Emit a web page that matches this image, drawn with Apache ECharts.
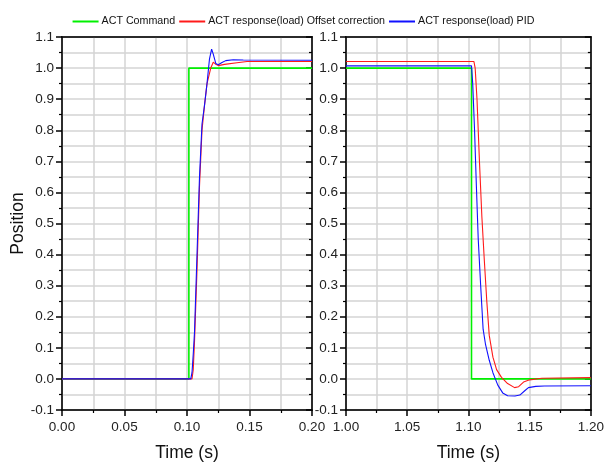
<!DOCTYPE html>
<html><head><meta charset="utf-8">
<script src="https://cdn.jsdelivr.net/npm/echarts@6/dist/echarts.min.js"></script>
<style>html,body{margin:0;padding:0;background:#fff}#c{width:607px;height:467px}</style>
</head><body><div id="c"></div>
<script>
// Left panel (step up), x in s
const cmdLeft = [[0,0],[0.1015,0],[0.1015,1],[0.2,1]];
const offLeft = [[0,0],[0.104,0],[0.105,0.03],[0.106,0.12],[0.108,0.35],[0.110,0.62],[0.112,0.80],[0.114,0.88],[0.116,0.95],[0.119,1.00],[0.121,1.019],[0.123,1.012],[0.125,1.008],[0.130,1.012],[0.140,1.017],[0.148,1.021],[0.2,1.021]];
const pidLeft = [[0,0],[0.103,0],[0.104,0.02],[0.105,0.08],[0.106,0.15],[0.108,0.40],[0.110,0.65],[0.112,0.82],[0.114,0.88],[0.116,0.95],[0.118,1.03],[0.1197,1.061],[0.121,1.045],[0.123,1.015],[0.125,1.011],[0.128,1.018],[0.131,1.024],[0.137,1.027],[0.145,1.026],[0.2,1.025]];
// Right panel (step down)
const cmdRight = [[1.0,1],[1.1025,1],[1.1025,0],[1.2,0]];
const offRight = [[1.0,1.021],[1.1045,1.021],[1.1055,1.00],[1.107,0.90],[1.109,0.70],[1.111,0.52],[1.113,0.38],[1.115,0.25],[1.117,0.14],[1.120,0.07],[1.123,0.03],[1.127,0.005],[1.132,-0.015],[1.1377,-0.028],[1.141,-0.025],[1.145,-0.010],[1.150,-0.003],[1.160,0.002],[1.2,0.004]];
const pidRight = [[1.0,1.007],[1.1025,1.007],[1.1035,0.95],[1.105,0.80],[1.1065,0.62],[1.108,0.45],[1.110,0.30],[1.112,0.16],[1.114,0.11],[1.117,0.06],[1.120,0.02],[1.124,-0.02],[1.128,-0.045],[1.132,-0.054],[1.138,-0.055],[1.142,-0.052],[1.146,-0.038],[1.149,-0.028],[1.155,-0.024],[1.162,-0.023],[1.2,-0.022]];
const seriesNames = ['ACT Command','ACT response(load) Offset correction','ACT response(load) PID'];
const colors = ['#00f000','#ff1a1a','#1010ff'];

const font = 'Liberation Sans, Arial, sans-serif';
const gridCol = '#d4d4d4';
function xAx(gi, min, max, decimals, main){
  return {
    type:'value', gridIndex:gi, min:min, max:max, interval:0.05, position: main?'bottom':'top',
    name: main?'Time (s)':'', nameLocation:'middle', nameGap:34,
    nameTextStyle:{fontFamily:font,fontSize:17.5,color:'#111'},
    axisLine:{show:true,onZero:false,lineStyle:{color:'#000',width:1.5}},
    axisTick:{show:main,length:6,lineStyle:{color:'#000',width:1.5}},
    minorTick:{show:main,splitNumber:2,length:3,lineStyle:{color:'#000',width:1.2}},
    axisLabel:{show:main,fontFamily:font,fontSize:13.5,color:'#222',margin:10,
      formatter:v=>v.toFixed(decimals)},
    splitLine:{show:main,lineStyle:{color:gridCol,width:1.5}},
    minorSplitLine:{show:main,lineStyle:{color:gridCol,width:1.5}}
  };
}
function yAx(gi, main, showName){
  return {
    type:'value', gridIndex:gi, min:-0.1, max:1.1, interval:0.1, position: main?'left':'right',
    name: showName?'Position':'', nameLocation:'middle', nameGap:35,
    nameTextStyle:{fontFamily:font,fontSize:17.5,color:'#111'},
    axisLine:{show:true,onZero:false,lineStyle:{color:'#000',width:1.5}},
    axisTick:{show:true,inside:!main,length:6,lineStyle:{color:'#000',width:1.5}},
    minorTick:{show:true,splitNumber:2,length:3,lineStyle:{color:'#000',width:1.2}},
    axisLabel:{show:main,fontFamily:font,fontSize:13.5,color:'#222',margin:8,
      formatter:v=>v.toFixed(1)},
    splitLine:{show:main,lineStyle:{color:gridCol,width:1.5}},
    minorSplitLine:{show:main,lineStyle:{color:gridCol,width:1.5}}
  };
}
function ser(name, data, xi, yi, color, w){
  return {name:name,type:'line',data:data,xAxisIndex:xi,yAxisIndex:yi,showSymbol:false,symbol:'none',
    lineStyle:{color:color,width:w},itemStyle:{color:color},animation:false,z:3};
}
const chart = echarts.init(document.getElementById('c'),null,{renderer:'canvas'});
chart.setOption({
  animation:false,
  backgroundColor:'#fff',
  legend:{top:11,left:'center',itemWidth:26,itemHeight:2,itemGap:4,
    data:seriesNames.map(n=>({name:n,icon:'rect'})),
    textStyle:{fontFamily:font,fontSize:10.7,color:'#111',padding:[0,0,0,-2]}},
  grid:[
    {left:62,right:295,top:37,bottom:57,show:true,borderColor:'#000',borderWidth:1.5,backgroundColor:'transparent'},
    {left:346,right:13,top:37,bottom:57,show:true,borderColor:'#000',borderWidth:1.5,backgroundColor:'transparent'}
  ],
  xAxis:[xAx(0,0,0.2,2,true),xAx(1,1.0,1.2,2,true),xAx(0,0,0.2,2,false),xAx(1,1.0,1.2,2,false)],
  yAxis:[yAx(0,true,true),yAx(1,true,false),yAx(0,false,false),yAx(1,false,false)],
  series:[
    ser(seriesNames[0],cmdLeft,0,0,colors[0],1.6),
    ser(seriesNames[1],offLeft,0,0,colors[1],1.1),
    ser(seriesNames[2],pidLeft,0,0,colors[2],1.1),
    ser(seriesNames[0],cmdRight,1,1,colors[0],1.6),
    ser(seriesNames[1],offRight,1,1,colors[1],1.1),
    ser(seriesNames[2],pidRight,1,1,colors[2],1.1)
  ]
});
</script></body></html>
